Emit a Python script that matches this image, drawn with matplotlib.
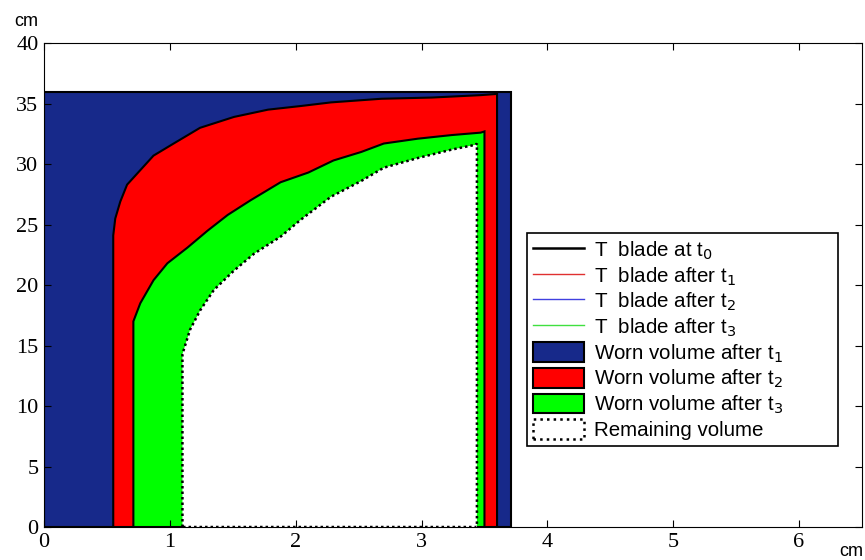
import matplotlib.pyplot as plt
from matplotlib.lines import Line2D
from matplotlib.patches import Patch

# blade profiles (cm)
t0_x = [0, 0, 3.71, 3.71]
t0_y = [0, 36, 36, 0]

t1_x = [0.55, 0.55, 0.566, 0.606, 0.66, 0.765, 0.87, 1.03, 1.24, 1.51, 1.78,
        2.04, 2.28, 2.68, 3.08, 3.47, 3.60, 3.60]
t1_y = [0, 24.1, 25.5, 26.9, 28.3, 29.5, 30.7, 31.7, 33.0, 33.9, 34.5,
        34.8, 35.1, 35.4, 35.5, 35.7, 35.8, 0]

t2_x = [0.71, 0.71, 0.765, 0.87, 0.98, 1.14, 1.30, 1.46, 1.64, 1.88, 2.10,
        2.30, 2.52, 2.70, 2.97, 3.24, 3.47, 3.50, 3.50]
t2_y = [0, 17.0, 18.5, 20.4, 21.8, 23.1, 24.5, 25.8, 27.0, 28.5, 29.3,
        30.3, 31.0, 31.7, 32.1, 32.4, 32.6, 32.7, 0]

t3_x = [1.10, 1.10, 1.16, 1.24, 1.35, 1.51, 1.67, 1.88, 2.04, 2.28, 2.52,
        2.70, 2.97, 3.24, 3.43, 3.44, 3.44]
t3_y = [0, 14.3, 16.3, 17.9, 19.6, 21.2, 22.6, 24.0, 25.4, 27.3, 28.6,
        29.7, 30.5, 31.2, 31.6, 31.7, 0]

xticks = [0, 1, 2, 3, 4, 5, 6]
yticks = [0, 5, 10, 15, 20, 25, 30, 35, 40]

navy = '#17298a'
red = '#ff0000'
green = '#00ff00'

fig = plt.figure(figsize=(8.65, 5.6), dpi=100)
ax = fig.add_axes([0.0509, 0.0589, 0.9456, 0.8641])

ax.fill(t0_x, t0_y, facecolor=navy, edgecolor='black', linewidth=1.5)
ax.fill(t1_x, t1_y, facecolor=red, edgecolor='black', linewidth=1.5)
ax.fill(t2_x, t2_y, facecolor=green, edgecolor='black', linewidth=1.5)
ax.fill(t3_x, t3_y, facecolor='white', edgecolor='black', linewidth=1.8,
        linestyle=(0, (1, 1.2)))

ax.set_xlim(0, 6.5)
ax.set_ylim(0, 40)
ax.set_xticks(xticks)
ax.set_yticks(yticks)
ax.tick_params(direction='in', top=True, right=True, length=5,
               labelsize=16, pad=4)
for lab in ax.get_xticklabels() + ax.get_yticklabels():
    lab.set_fontfamily('Liberation Serif')

fig.text(0.016, 0.953, 'cm', fontsize=13, family='Liberation Sans')
fig.text(0.970, 0.008, 'cm', fontsize=13, family='Liberation Sans')

handles = [
    Line2D([], [], color='black', lw=1.8),
    Line2D([], [], color='#e03030', lw=1),
    Line2D([], [], color='#4040e0', lw=1),
    Line2D([], [], color='#40e040', lw=1),
    Patch(facecolor=navy, edgecolor='black', lw=1.5),
    Patch(facecolor=red, edgecolor='black', lw=1.5),
    Patch(facecolor=green, edgecolor='black', lw=1.5),
    Patch(facecolor='white', edgecolor='black', lw=1.8, linestyle=':'),
]
labels = [
    'T  blade at t$_0$',
    'T  blade after t$_1$',
    'T  blade after t$_2$',
    'T  blade after t$_3$',
    'Worn volume after t$_1$',
    'Worn volume after t$_2$',
    'Worn volume after t$_3$',
    'Remaining volume',
]
leg = ax.legend(handles, labels, loc='upper left', mode='expand',
                bbox_to_anchor=(0.59, 0.165, 0.381, 0.442), borderaxespad=0,
                fancybox=False, edgecolor='black', framealpha=1,
                prop={'family': 'Liberation Sans', 'size': 14.8},
                labelspacing=0.15, handlelength=2.5, handleheight=1.1,
                borderpad=0.3, handletextpad=0.5)
leg.get_frame().set_linewidth(1.2)

fig.savefig('out.png', dpi=100)
